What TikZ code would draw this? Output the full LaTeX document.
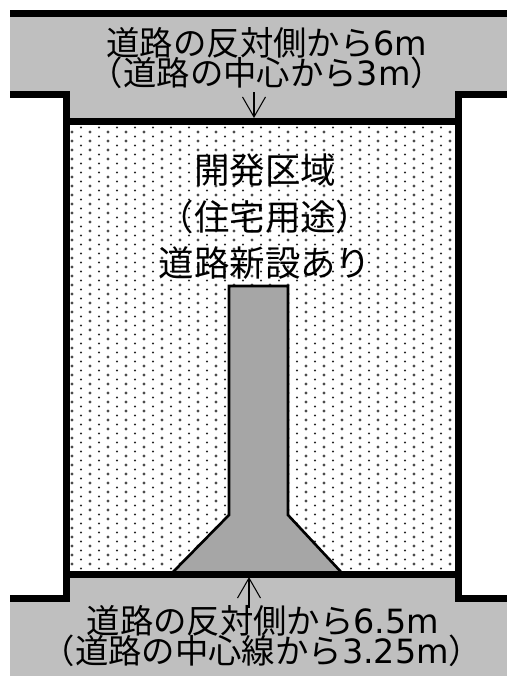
\documentclass[tikz,border=0pt]{standalone}
\usepackage{fontspec}
\setmainfont{Noto Sans CJK JP}
\newfontfamily\latinfont{DejaVu Sans}
\usetikzlibrary{arrows.meta}

\tikzset{
  wall/.style={line width=0.14cm,miter limit=10},
  roadtext/.style={inner sep=0pt,font=\fontsize{19}{19}\selectfont},
  sitetext/.style={inner sep=0pt,font=\fontsize{20.2}{20.2}\selectfont},
  setback/.style={line width=0.6pt,-{Straight Barb[length=0.4cm,width=0.46cm]}}
}

\begin{document}
\begin{tikzpicture}[x=0.02cm,y=-0.02cm]
    \useasboundingbox (0,0) rectangle (507,676);

    % roads
    \fill[black!25] (10,13) rectangle (507,121);
    \fill[black!25] (10,575) rectangle (507,676);
    \fill[white] (10,98) rectangle (66,595);
    \fill[white] (459,98) rectangle (507,595);

    % dots of the site
    \begin{scope}
      \clip (70,124) rectangle (455,571);
      \foreach \i in {0,...,21} {
        \foreach \j in {0,...,25} {
          \fill[black!70] (72+18*\i,132+18*\j) circle (1.7);
          \fill[black!70] (72+18*\i,141+18*\j) circle (1.7);
          \fill[black!85] (81+18*\i,127.5+18*\j) circle (1.2);
          \fill[black!85] (81+18*\i,136.5+18*\j) circle (1.2);
        }
      }
    \end{scope}

    % new road
    \draw[line width=1.5pt,fill=black!35] (229,286) -- (288,286) -- (288,515) -- (342,573)
      -- (172,573) -- (229,515) -- cycle;

    % walls
    \draw[wall] (10,13.5) -- (507,13.5);
    \draw[wall] (10,94.5) -- (66.5,94.5) -- (66.5,598.5) -- (10,598.5);
    \draw[wall] (507,94.5) -- (458.5,94.5) -- (458.5,598.5) -- (507,598.5);
    \draw[wall] (66.5,121) -- (458.5,121);
    \draw[wall] (66.5,574) -- (458.5,574);

    % arrows
    \coordinate (topstart) at (254,92);
    \coordinate (topend) at (254,118);
    \coordinate (bottomstart) at (249,608);
    \coordinate (bottomend) at (249,577);
    \draw[setback] (topstart) -- (topend);
    \draw[setback] (bottomstart) -- (bottomend);

    % texts
    \node[roadtext] (topfirst) at (267,43) {道路の反対側から{\latinfont 6m}};
    \node[roadtext] (topsecond) at (267,73) {（道路の中心から{\latinfont 3m}）};
    \node[sitetext] (sitefirst) at (265,170) {開発区域};
    \node[sitetext] (sitesecond) at (265,217) {（住宅用途）};
    \node[sitetext] (sitethird) at (265,263) {道路新設あり};
    \node[roadtext] (bottomfirst) at (263,621) {道路の反対側から{\latinfont 6.5m}};
    \node[roadtext] (bottomsecond) at (262,651) {（道路の中心線から{\latinfont 3.25m}）};
\end{tikzpicture}
\end{document}
